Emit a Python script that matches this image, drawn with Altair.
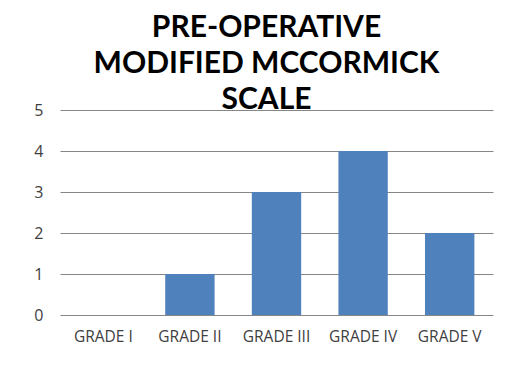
import altair as alt
import pandas as pd

categories = ["GRADE I", "GRADE II", "GRADE III", "GRADE IV", "GRADE V"]
values = [0, 1, 3, 4, 2]
title_lines = ["PRE-OPERATIVE", "MODIFIED MCCORMICK", "SCALE"]

df = pd.DataFrame({"grade": categories, "count": values})

chart = alt.Chart(df).mark_bar(color="#4f81bd").encode(
    x=alt.X("grade:N", sort=categories, title=None,
            scale=alt.Scale(paddingInner=0.43, paddingOuter=0.215),
            axis=alt.Axis(labelAngle=0, labelFont="Open Sans", labelFontSize=15.5,
                          labelColor="#404040", domain=False, ticks=False,
                          labelPadding=14, grid=False, labelOverlap=False)),
    y=alt.Y("count:Q", title=None,
            scale=alt.Scale(domain=[0, 5]),
            axis=alt.Axis(values=[0, 1, 2, 3, 4, 5], labelFont="Open Sans",
                          labelFontSize=16, labelColor="#404040", domain=False,
                          ticks=False, labelPadding=17, gridColor="#868686",
                          gridWidth=1)),
).properties(
    width=433, height=205,
    autosize=alt.AutoSizeParams(type="none"),
    padding={"left": 52, "top": 102, "right": 15, "bottom": 45},
    title=alt.TitleParams(title_lines, font="Lato", fontSize=30,
                          fontWeight="bold", color="#000000", lineHeight=36,
                          anchor="middle", dx=-10, offset=-13),
).configure_view(stroke=None)

chart.save("out.html", embed_options={"renderer": "svg", "actions": False})
